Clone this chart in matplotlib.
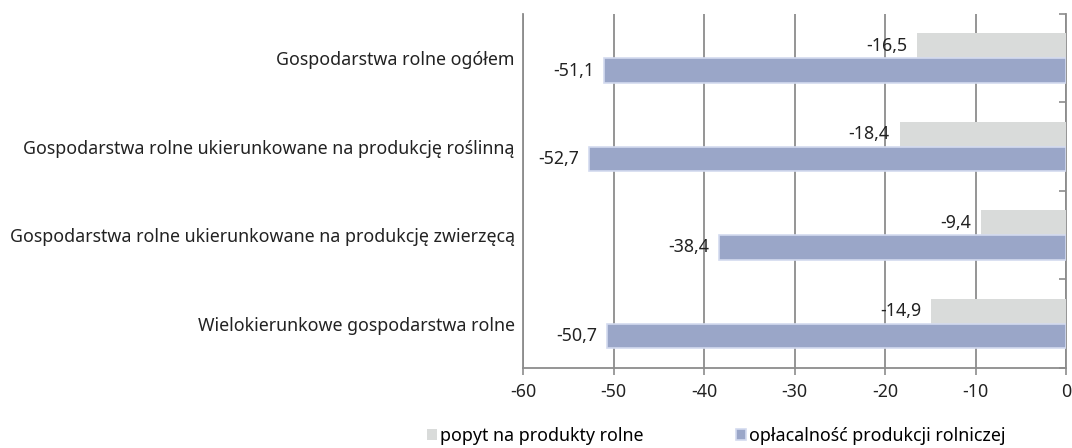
import numpy as np
import matplotlib.pyplot as plt

plt.rcParams['font.family'] = ['Noto Sans', 'DejaVu Sans']
plt.rcParams['axes.unicode_minus'] = False

categories = [
    "Gospodarstwa rolne ogółem",
    "Gospodarstwa rolne ukierunkowane na produkcję roślinną",
    "Gospodarstwa rolne ukierunkowane na produkcję zwierzęcą",
    "Wielokierunkowe gospodarstwa rolne",
]
popyt = [-16.5, -18.4, -9.4, -14.9]
oplacalnosc = [-51.1, -52.7, -38.4, -50.7]
series_names = ["popyt na produkty rolne", "opłacalność produkcji rolniczej"]

grey = "#d9dbda"
blue = "#9aa6c8"
axis_col = "#8c8c8c"
fs = 12.8

fig = plt.figure(figsize=(10.72, 4.48), dpi=100)
ax = fig.add_axes([0.488, 0.179, 0.5065, 0.79])

idx = np.arange(len(categories))
h = 0.28
b1 = ax.barh(idx - h / 2, popyt, height=h, color=grey, label=series_names[0], zorder=3)
b2 = ax.barh(idx + h / 2, oplacalnosc, height=h, color=blue, edgecolor="#d3daef",
             linewidth=1.2, label=series_names[1], zorder=3)

for bars, vals in ((b1, popyt), (b2, oplacalnosc)):
    for rect, v in zip(bars, vals):
        ax.annotate(f"{v:.1f}".replace(".", ","),
                    xy=(v, rect.get_y() + rect.get_height() / 2),
                    xytext=(-7, 0), textcoords="offset points",
                    ha="right", va="center", fontsize=fs, color="#222222", zorder=5)

ax.set_xlim(-60, 0)
ax.set_ylim(3.5, -0.5)
ax.set_xticks(np.arange(-60, 1, 10))
ax.set_yticks(idx)
ax.set_yticklabels(categories, fontsize=fs, color="#222222")
ax.tick_params(axis="y", length=0, pad=6)
ax.set_yticks(np.arange(-0.5, 3.6, 1), minor=True)
ax.tick_params(axis="y", which="minor", left=False, right=True, direction="in",
               length=5, color=axis_col, width=1.2)
ax.tick_params(axis="x", length=5, color=axis_col, width=1.2, labelsize=fs,
               labelcolor="#222222", pad=6)

ax.grid(axis="x", color=axis_col, linewidth=1.3, zorder=0)
ax.spines["top"].set_visible(False)
for s in ("left", "bottom", "right"):
    ax.spines[s].set_color(axis_col)
    ax.spines[s].set_linewidth(1.3)

fig.legend(loc="center", bbox_to_anchor=(0.668, 0.027), ncol=2, frameon=False,
           fontsize=fs, handlelength=0.6, handleheight=0.6, handletextpad=0.15,
           columnspacing=5.2)

fig.savefig("out.png", dpi=100)
